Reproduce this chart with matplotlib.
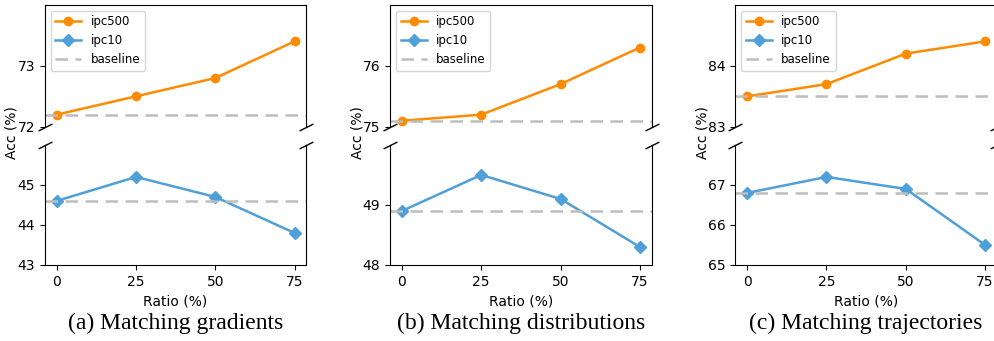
import matplotlib
matplotlib.use('Agg')
import matplotlib.pyplot as plt
import numpy as np

ratios = [0, 25, 50, 75]
titles = ['(a) Matching gradients', '(b) Matching distributions', '(c) Matching trajectories']

ipc500 = [[72.2, 72.5, 72.8, 73.4],
          [75.1, 75.2, 75.7, 76.3],
          [83.5, 83.7, 84.2, 84.4]]
ipc10 = [[44.6, 45.2, 44.7, 43.8],
         [48.9, 49.5, 49.1, 48.3],
         [66.8, 67.2, 66.9, 65.5]]
base500 = [72.2, 75.1, 83.5]
base10 = [44.6, 48.9, 66.8]

top_lims = [(72, 74), (75, 77), (83, 85)]
bot_lims = [(43, 46), (48, 50), (65, 68)]
top_ticks = [[72, 73], [75, 76], [83, 84]]
bot_ticks = [[43, 44, 45], [48, 49], [65, 66, 67]]

orange = '#ff8c00'
blue = '#4f9fd8'
gray = '#bdbdbd'

fig = plt.figure(figsize=(9.95, 3.41), dpi=100)
lefts = [0.045, 0.392, 0.739]
w = 0.263

for i in range(3):
    ax1 = fig.add_axes([lefts[i], 0.628, w, 0.358])
    ax2 = fig.add_axes([lefts[i], 0.223, w, 0.352])

    ax1.plot(ratios, ipc500[i], color=orange, marker='o', markersize=6, lw=1.8, label='ipc500')
    ax1.plot([], [], color=blue, marker='D', markersize=6, lw=1.8, label='ipc10')
    ax1.axhline(base500[i], color=gray, ls='--', lw=1.8, dashes=(5, 3), label='baseline')
    ax2.plot(ratios, ipc10[i], color=blue, marker='D', markersize=6, lw=1.8)
    ax2.axhline(base10[i], color=gray, ls='--', lw=1.8, dashes=(5, 3))

    ax1.set_ylim(*top_lims[i])
    ax2.set_ylim(*bot_lims[i])
    ax1.set_yticks(top_ticks[i])
    ax2.set_yticks(bot_ticks[i])
    ax1.set_xlim(-3.75, 78.75)
    ax2.set_xlim(-3.75, 78.75)
    ax2.set_xticks(ratios)

    ax1.spines['bottom'].set_visible(False)
    ax2.spines['top'].set_visible(False)
    ax1.tick_params(axis='x', bottom=False, labelbottom=False)

    # break marks
    d = 0.5
    kw = dict(marker=[(-1, -d), (1, d)], markersize=10, linestyle='none',
              color='k', mec='k', mew=1, clip_on=False)
    ax1.plot([0, 1], [0, 0], transform=ax1.transAxes, **kw)
    ax2.plot([0, 1], [1, 1], transform=ax2.transAxes, **kw)

    ax1.legend(loc='upper left', fontsize=8.5, handlelength=2.2)
    ax2.set_xlabel('Ratio (%)', fontsize=10)

    fig.text(lefts[i] - 0.033, 0.61, 'Acc (%)', rotation=90, ha='center', va='center', fontsize=10)
    fig.text(lefts[i] + w / 2, 0.052, titles[i], ha='center', va='center',
             fontsize=17, family='Liberation Serif')

fig.savefig('out.png', dpi=100)
